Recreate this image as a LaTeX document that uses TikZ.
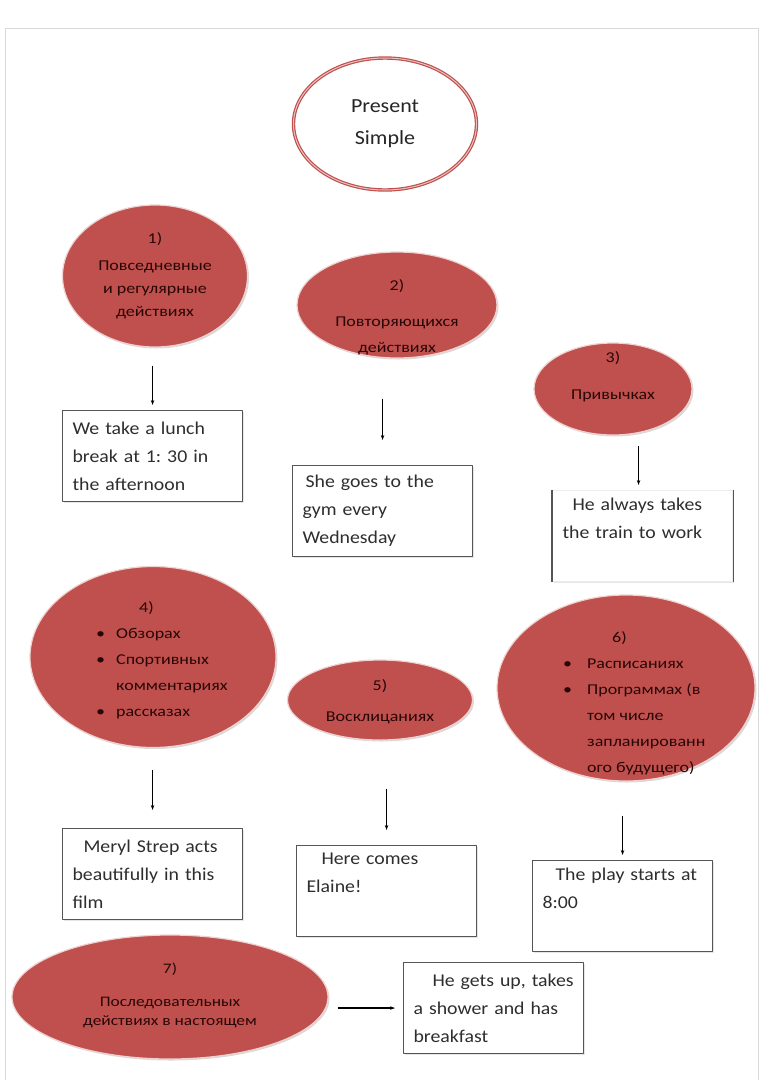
\documentclass[tikz,border=0pt]{standalone}
\usepackage{fontspec}
\setmainfont{Carlito}
\newfontfamily\ellfont[FakeStretch=1.2]{Carlito}
\newfontfamily\notefont[FakeStretch=1.1]{Carlito}
\usepackage{xcolor}
\usetikzlibrary{arrows.meta,shapes.geometric,shadows}
\definecolor{ellred}{RGB}{192,80,77}
\definecolor{elltext}{RGB}{40,6,6}
\definecolor{boxline}{RGB}{85,85,85}
\frenchspacing

\begin{document}
\begin{tikzpicture}[x=1pt,y=-1pt,>=Stealth,line join=round,
  topic/.style={ellipse,fill=ellred,draw=white!75!ellred,line width=1.2pt,inner sep=0pt,
    drop shadow={shadow xshift=1.5pt,shadow yshift=-1.5pt,opacity=0.3}},
  lbl/.style={inner sep=0pt,align=center,text=elltext,font=\ellfont\fontsize{15}{23}\selectfont},
  note/.style={rectangle,draw=boxline,fill=white,line width=1.1pt,anchor=north west,
    minimum width=180pt,minimum height=91pt,text width=160pt,inner xsep=10pt,align=left,
    text=black!82,font=\notefont\fontsize{18}{28}\selectfont,
    drop shadow={shadow xshift=1pt,shadow yshift=-1pt,opacity=0.2}},
  arr/.style={-{Stealth[length=5pt,width=3.5pt]},line width=0.8pt}]
  \useasboundingbox (0,0) rectangle (762,1080);
  \draw[gray!30,line width=1pt] (5,28) rectangle (758,1086);

  \node[ellipse,draw=ellred,line width=1.2pt,double=ellred!35!white,double distance=1pt,fill=white,
    minimum width=183pt,minimum height=132pt,align=center,font=\notefont\fontsize{20}{32}\selectfont,
    text=black!85] (ps) at (385,124) {Present\\Simple};

  \node[topic,minimum width=185pt,minimum height=142pt] (e1) at (155,276) {};
  \node[topic,minimum width=200pt,minimum height=106pt] (e2) at (397,305) {};
  \node[topic,minimum width=158pt,minimum height=92pt] (e3) at (613,389) {};
  \node[topic,minimum width=246pt,minimum height=181pt] (e4) at (153,657) {};
  \node[topic,minimum width=185pt,minimum height=80pt] (e5) at (380,700) {};
  \node[topic,minimum width=258pt,minimum height=186pt] (e6) at (626,688) {};
  \node[topic,minimum width=316pt,minimum height=124pt] (e7) at (170,997) {};

  \node[lbl] (t1) at (e1.center) {1)\\[4pt]Повседневные\\и регулярные\\действиях};
  \node[lbl,font=\ellfont\fontsize{15}{26}\selectfont] (t2) at ([yshift=-12pt]e2.center)
    {2)\\[10pt]Повторяющихся\\действиях};
  \node[lbl] (t3) at ([yshift=12pt]e3.center) {3)\\[14pt]Привычках};
  \node[lbl,align=left,anchor=west,font=\ellfont\fontsize{15}{26}\selectfont] (t4) at (96,659)
    {\begin{tabular}{@{}l@{\hspace{11pt}}l@{}}
      \multicolumn{2}{@{}l}{\hspace{43pt}4)}\\
      \textbullet & Обзорах\\
      \textbullet & Спортивных\\
                  & комментариях\\
      \textbullet & рассказах
    \end{tabular}};
  \node[lbl] (t5) at ([yshift=-2pt]e5.center) {5)\\[8pt]Восклицаниях};
  \node[lbl,align=left,anchor=west,font=\ellfont\fontsize{15}{26}\selectfont] (t6) at (563,702)
    {\begin{tabular}{@{}l@{\hspace{15pt}}l@{}}
      \multicolumn{2}{@{}l}{\hspace{49pt}6)}\\
      \textbullet & Расписаниях\\
      \textbullet & Программах (в\\
                  & том числе\\
                  & запланированн\\
                  & ого будущего)
    \end{tabular}};
  \node[lbl,font=\ellfont\fontsize{14.5}{19}\selectfont] (t7) at ([yshift=2pt]e7.center)
    {7)\\[14pt]Последовательных\\действиях в настоящем};

  \node[note] (b1) at (62,410) {We take a lunch\\break at 1: 30 in\\the afternoon};
  \node[note] (b2) at (292,465) {\hspace*{3pt}She goes to the\\gym every\\Wednesday};
  \node[note,draw=gray!15] (b3) at (552,490) {\hspace*{10pt}He always takes\\the train to work\\\strut};
  \draw[boxline,line width=1.1pt] (b3.north west) -- (b3.south west);
  \draw[boxline,line width=1.1pt] (b3.north east) -- (b3.south east);
  \node[note] (b4) at (62,828) {\hspace*{11pt}Meryl Strep acts\\beautifully in this\\film};
  \node[note] (b5) at (296,845) {\hspace*{15pt}Here comes\\Elaine!\\\strut};
  \node[note] (b6) at (532,860) {\hspace*{13pt}The play starts at\\8:00\\\strut};
  \node[note] (b7) at (403,962) {\hspace*{19pt}\mbox{He gets up, takes}\\a shower and has\\breakfast};

  \draw[arr,shorten <=18pt,shorten >=5pt] (e1.south -| b1.north) -- (b1.north);
  \draw[arr,shorten <=40pt,shorten >=25pt] (e2.south -| b2.north) -- (b2.north);
  \draw[arr,line width=1.8pt,shorten <=10pt,shorten >=5pt] ([xshift=-4pt]e3.south -| b3.north) -- ([xshift=-4pt]b3.north);
  \draw[arr,shorten <=22pt,shorten >=18pt] (e4.south -| b4.north) -- (b4.north);
  \draw[arr,shorten <=48pt,shorten >=15pt] (e5.south -| b5.north) -- (b5.north);
  \draw[arr,shorten <=34pt,shorten >=5pt] (e6.south -| b6.north) -- (b6.north);
  \draw[arr,line width=1.2pt,shorten <=9pt,shorten >=8pt] (e7.east |- b7.west) -- (b7.west);
\end{tikzpicture}
\end{document}
